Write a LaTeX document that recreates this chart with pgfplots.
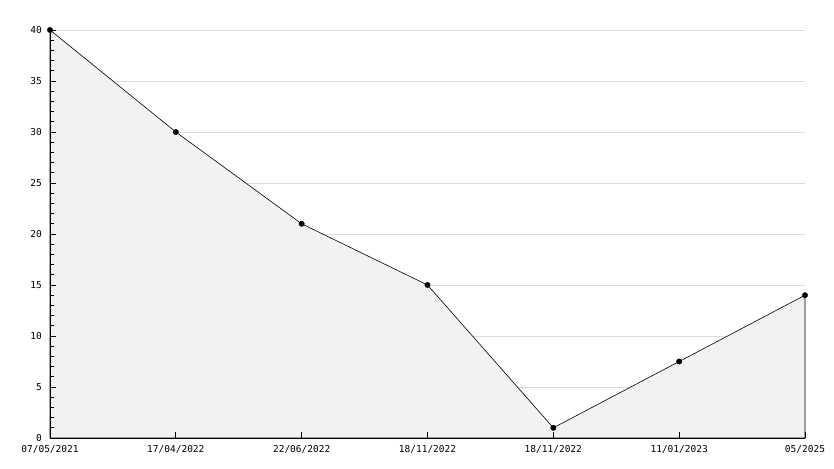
\documentclass[border=0pt]{standalone}
\usepackage{fontspec}
\setmonofont{DejaVu Sans Mono}
\usepackage{pgfplots}
\pgfplotsset{compat=1.18}
\definecolor{fillc}{HTML}{F2F2F2}
\definecolor{gridc}{HTML}{DCDCDC}
\begin{document}
\begin{tikzpicture}
\begin{axis}[
  set layers=standard,
  axis on top,
  scale only axis,
  width=755pt, height=408pt,
  xmin=0, xmax=6, ymin=0, ymax=40,
  clip=false,
  axis x line*=bottom, axis y line*=left,
  axis line style={black, line width=0.8pt},
  xtick={0,1,2,3,4,5,6},
  xticklabels={07/05/2021,17/04/2022,22/06/2022,18/11/2022,18/11/2022,11/01/2023,05/2025},
  ytick={0,5,10,15,20,25,30,35,40},
  minor y tick num=4,
  tick align=inside,
  major tick length=6pt,
  minor tick length=3.5pt,
  tick style={black, line width=0.7pt},
  ymajorgrids,
  major grid style={gridc, line width=0.6pt, /pgfplots/on layer=axis background},
  /pgf/number format/assume math mode=true,
  ticklabel style={font=\fontsize{9.5}{9.5}\selectfont\ttfamily, text=black},
  yticklabel style={anchor=east, inner sep=0pt, xshift=-8pt},
  xticklabel style={anchor=north, inner sep=0pt, yshift=-7pt},
]
\addplot[fill=fillc, draw=black, line width=0.6pt] coordinates {
  (0,40) (1,30) (2,21) (3,15) (4,1) (5,7.5) (6,14)
} \closedcycle;
\addplot[only marks, mark=*, mark size=2.7pt, black] coordinates {
  (0,40) (1,30) (2,21) (3,15) (4,1) (5,7.5) (6,14)
};
\end{axis}
\path (current axis.south west) ++(-50pt,-30pt) rectangle ++(834pt,468pt);
\end{tikzpicture}
\end{document}
